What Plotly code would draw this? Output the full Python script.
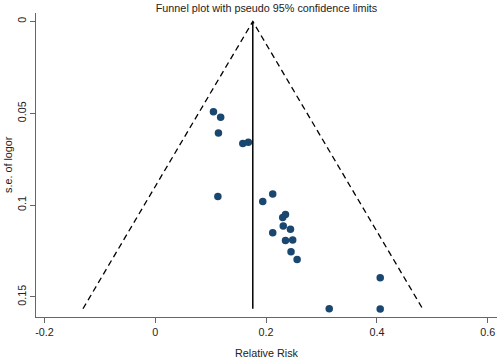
import plotly.graph_objects as go

# Data
relative_risk = [0.105, 0.118, 0.114, 0.158, 0.168, 0.113, 0.194, 0.212, 0.230, 0.235,
                 0.231, 0.244, 0.212, 0.235, 0.248, 0.245, 0.256, 0.406, 0.314, 0.406]
se_logor = [0.0491, 0.0521, 0.0607, 0.0665, 0.0657, 0.0953, 0.0980, 0.0939, 0.1067, 0.1051,
            0.1114, 0.1131, 0.1151, 0.1193, 0.1190, 0.1254, 0.1296, 0.1396, 0.1564, 0.1566]
pooled = 0.176
se_max = 0.1564
z = 1.96
x_ticks = [-0.2, 0, 0.2, 0.4, 0.6]
x_ticklabels = ["-0.2", "0", "0.2", "0.4", "0.6"]
y_ticks = [0, 0.05, 0.1, 0.15]
y_ticklabels = ["0", "0.05", "0.1", "0.15"]

FONT = "Liberation Sans, Arial, sans-serif"
NAVY = "#1a476f"
FS = 10.8
W, H = 498, 359
ML, MR, MT, MB = 36, 1, 13, 42

fig = go.Figure()

# pseudo 95% confidence limits
fig.add_trace(go.Scatter(
    x=[pooled - z * se_max, pooled, pooled + z * se_max],
    y=[se_max, 0, se_max],
    mode="lines", line=dict(color="black", width=1.3, dash="6px,4px"),
    hoverinfo="skip", showlegend=False))
# pooled estimate line
fig.add_trace(go.Scatter(
    x=[pooled, pooled], y=[0, se_max],
    mode="lines", line=dict(color="black", width=1.5),
    hoverinfo="skip", showlegend=False))
# studies
fig.add_trace(go.Scatter(
    x=relative_risk, y=se_logor, mode="markers",
    marker=dict(color=NAVY, size=7.5, line=dict(width=0)),
    showlegend=False))

fig.update_layout(
    width=W, height=H,
    margin=dict(l=ML, r=MR, t=MT, b=MB, autoexpand=False),
    paper_bgcolor="white", plot_bgcolor="white",
    font=dict(family=FONT, size=FS, color="#222"),
    title=dict(text="Funnel plot with pseudo 95% confidence limits",
               xref="paper", x=0.5, xanchor="center", yref="container", y=1 - 8 / H,
               yanchor="middle", font=dict(size=FS, color="#222")),
    xaxis=dict(range=[-0.2153, 0.6168], tickvals=x_ticks, ticktext=x_ticklabels,
               showgrid=False, zeroline=False, showline=True, linecolor="#666",
               linewidth=1, ticks="outside", ticklen=5, tickcolor="#666",
               automargin=False),
    yaxis=dict(range=[0.1609, -0.0046], tickvals=y_ticks, ticktext=y_ticklabels,
               showgrid=False, zeroline=False, showline=True, linecolor="#666",
               linewidth=1, ticks="outside", ticklen=5, tickcolor="#666",
               tickangle=-90, automargin=False),
    annotations=[
        dict(text="Relative Risk", xref="paper", yref="paper", x=0.5, y=0,
             xanchor="center", yanchor="middle", yshift=-(353 - (H - MB)),
             showarrow=False, font=dict(size=FS, color="#222")),
        dict(text="s.e. of logor", xref="paper", yref="paper", x=0, y=0.5,
             xanchor="center", yanchor="middle", xshift=-(ML - 8), textangle=-90,
             showarrow=False, font=dict(size=FS, color="#222")),
    ],
)

fig.write_html("out.html", config={"displayModeBar": False},
               post_script="document.body.style.margin='0';")
